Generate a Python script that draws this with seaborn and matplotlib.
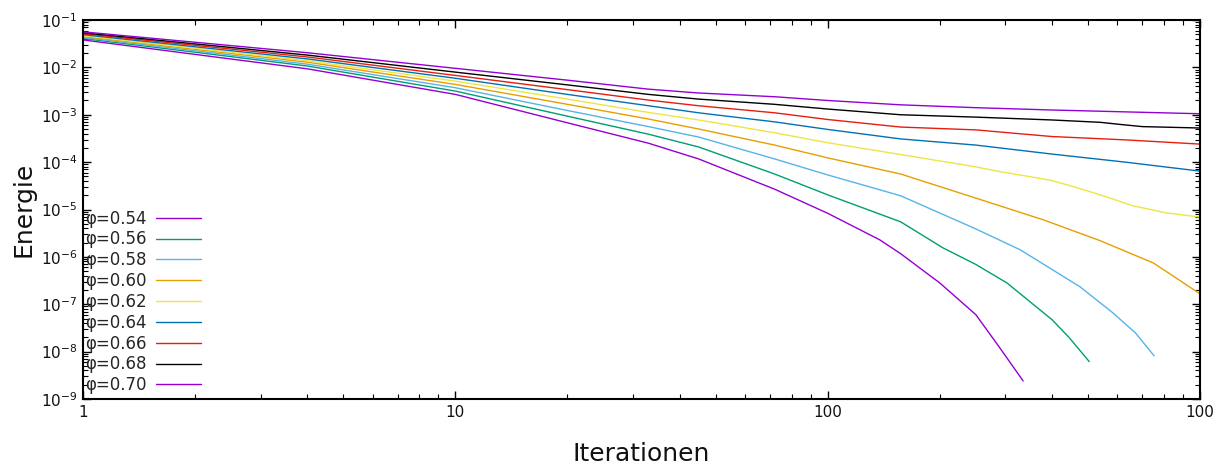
import matplotlib
matplotlib.use("Agg")
import matplotlib.pyplot as plt
import pandas as pd
import seaborn as sns
from matplotlib.ticker import LogLocator, NullFormatter, FixedLocator, FixedFormatter

# Packing fractions of the runs
PHI = ["0.54", "0.56", "0.58", "0.60", "0.62", "0.64", "0.66", "0.68", "0.70"]

# Energy per iteration for every run
ITER_054 = [1, 2, 4, 10, 20, 33, 45, 72, 100, 138, 157, 200, 250, 290, 335]
E_054 = [3.80e-2, 1.88e-2, 9.33e-3, 2.69e-3, 6.76e-4, 2.51e-4, 1.17e-4, 2.69e-5,
         8.32e-6, 2.29e-6, 1.17e-6, 2.82e-7, 6.03e-8, 1.20e-8, 2.40e-9]

ITER_056 = [1, 2, 4, 10, 20, 33, 45, 72, 100, 157, 204, 250, 303, 401, 446, 504]
E_056 = [4.07e-2, 2.09e-2, 1.07e-2, 3.16e-3, 9.33e-4, 3.89e-4, 2.09e-4, 5.62e-5,
         2.04e-5, 5.50e-6, 1.55e-6, 6.92e-7, 2.82e-7, 4.68e-8, 1.95e-8, 6.17e-9]

ITER_058 = [1, 2, 4, 10, 20, 33, 45, 72, 100, 157, 250, 329, 476, 583, 670, 753]
E_058 = [4.27e-2, 2.24e-2, 1.17e-2, 3.72e-3, 1.23e-3, 5.62e-4, 3.39e-4, 1.17e-4,
         5.37e-5, 1.95e-5, 3.89e-6, 1.41e-6, 2.34e-7, 6.61e-8, 2.51e-8, 8.13e-9]

ITER_060 = [1, 2, 4, 10, 20, 33, 45, 72, 100, 157, 250, 380, 540, 750, 1000]
E_060 = [4.47e-2, 2.40e-2, 1.29e-2, 4.37e-3, 1.66e-3, 8.13e-4, 5.01e-4, 2.29e-4,
         1.23e-4, 5.62e-5, 1.74e-5, 6.03e-6, 2.19e-6, 7.41e-7, 1.66e-7]

ITER_062 = [1, 2, 4, 10, 20, 33, 45, 72, 100, 157, 250, 290, 396, 440, 540, 660,
            810, 1000]
E_062 = [4.68e-2, 2.54e-2, 1.38e-2, 5.13e-3, 2.14e-3, 1.12e-3, 7.76e-4, 4.17e-4,
         2.57e-4, 1.45e-4, 7.94e-5, 6.31e-5, 4.17e-5, 3.31e-5, 2.04e-5, 1.20e-5,
         8.51e-6, 6.92e-6]

ITER_064 = [1, 2, 4, 10, 20, 33, 45, 72, 100, 157, 250, 400, 630, 1000]
E_064 = [4.90e-2, 2.72e-2, 1.51e-2, 5.89e-3, 2.69e-3, 1.55e-3, 1.10e-3, 7.08e-4,
         4.90e-4, 3.09e-4, 2.29e-4, 1.48e-4, 1.00e-4, 6.46e-5]

ITER_066 = [1, 2, 4, 10, 20, 33, 45, 72, 100, 157, 250, 400, 630, 1000]
E_066 = [5.13e-2, 2.92e-2, 1.66e-2, 6.76e-3, 3.39e-3, 2.04e-3, 1.55e-3, 1.10e-3,
         7.94e-4, 5.50e-4, 4.79e-4, 3.47e-4, 2.95e-4, 2.40e-4]

ITER_068 = [1, 2, 4, 10, 20, 33, 45, 72, 100, 157, 250, 400, 540, 620, 700, 1000]
E_068 = [5.37e-2, 3.13e-2, 1.82e-2, 7.94e-3, 4.27e-3, 2.69e-3, 2.14e-3, 1.66e-3,
         1.32e-3, 1.00e-3, 8.91e-4, 7.76e-4, 6.92e-4, 6.17e-4, 5.62e-4, 5.25e-4]

ITER_070 = [1, 2, 4, 10, 20, 33, 45, 72, 100, 157, 250, 400, 630, 1000]
E_070 = [5.62e-2, 3.39e-2, 2.04e-2, 9.55e-3, 5.37e-3, 3.47e-3, 2.88e-3, 2.40e-3,
         2.00e-3, 1.62e-3, 1.41e-3, 1.26e-3, 1.15e-3, 1.05e-3]

COLORS = ["#9400D3", "#009E73", "#56B4E9", "#E69F00", "#F0E442",
          "#0072B2", "#E51E10", "#000000", "#9400D3"]

X_TICKS = [1, 10, 100, 1000]
X_TICK_LABELS = ["1", "10", "100", "100"]

ITERS = [ITER_054, ITER_056, ITER_058, ITER_060, ITER_062,
         ITER_064, ITER_066, ITER_068, ITER_070]
ENERGIES = [E_054, E_056, E_058, E_060, E_062, E_064, E_066, E_068, E_070]

labels = [f"φ={p}" for p in PHI]
frames = []
for lab, its, es in zip(labels, ITERS, ENERGIES):
    frames.append(pd.DataFrame({"Iterationen": its, "Energie": es, "phi": lab}))
df = pd.concat(frames, ignore_index=True)

sns.set_theme(style="ticks")
plt.rcParams["font.family"] = ["DejaVu Sans"]
plt.rcParams["mathtext.fontset"] = "dejavusans"

fig = plt.figure(figsize=(12.32, 4.68), dpi=100)
ax = fig.add_axes([83 / 1232, 1 - 399 / 468, (1200 - 83) / 1232, (399 - 20) / 468])

sns.lineplot(data=df, x="Iterationen", y="Energie", hue="phi", hue_order=labels,
             palette=COLORS, estimator=None, sort=False, linewidth=1.0, ax=ax)

ax.set_xscale("log")
ax.set_yscale("log")
ax.set_xlim(1, 1000)
ax.set_ylim(1e-9, 1e-1)

ax.xaxis.set_major_locator(FixedLocator(X_TICKS))
ax.xaxis.set_major_formatter(FixedFormatter(X_TICK_LABELS))
ax.xaxis.set_minor_locator(LogLocator(base=10, subs=range(2, 10), numticks=100))
ax.xaxis.set_minor_formatter(NullFormatter())
ax.yaxis.set_major_locator(LogLocator(base=10, numticks=100))
ax.yaxis.set_minor_locator(LogLocator(base=10, subs=range(2, 10), numticks=100))
ax.yaxis.set_minor_formatter(NullFormatter())

ax.tick_params(which="both", direction="in", top=True, right=True,
               color="black", labelsize=11, labelcolor="#111111")
ax.tick_params(which="major", length=6, width=1.0, pad=4)
ax.tick_params(which="minor", length=3.5, width=0.8)
for sp in ax.spines.values():
    sp.set_color("black")
    sp.set_linewidth(1.5)

ax.set_xlabel("Iterationen", fontsize=18, labelpad=16, color="#111111")
ax.set_ylabel("Energie", fontsize=18, labelpad=4, color="#111111")

handles, lbls = ax.get_legend_handles_labels()
ax.legend(handles, lbls, loc="lower left", bbox_to_anchor=(0.0, 0.008),
          frameon=False, markerfirst=False,
          fontsize=12, handlelength=2.7, handletextpad=0.6, labelspacing=0.17,
          borderaxespad=0.0, borderpad=0.1)

fig.savefig("out.png", dpi=100)
